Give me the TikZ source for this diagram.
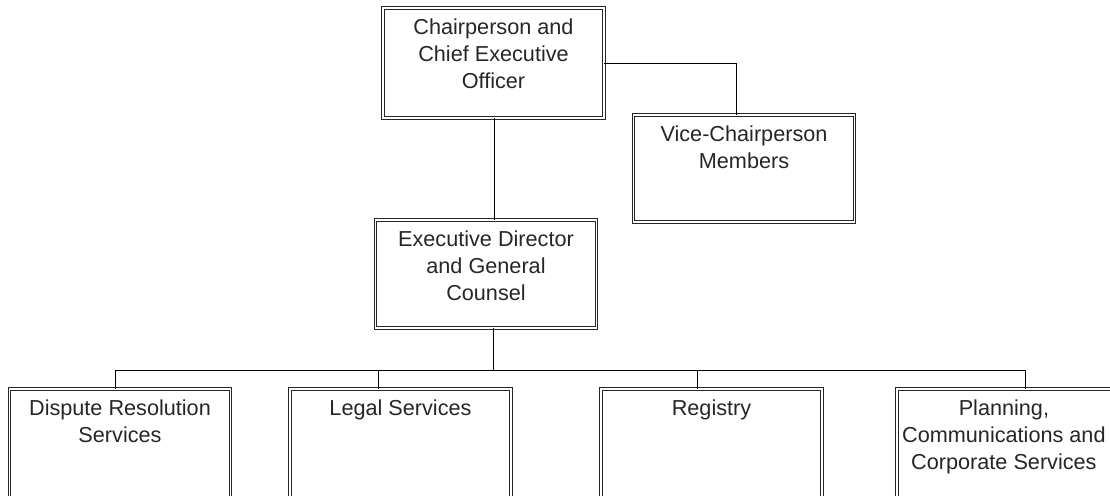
\documentclass[tikz,border=0pt]{standalone}
\usepackage{fontspec}
\setmainfont{Liberation Sans}
\begin{document}
\begin{tikzpicture}[x=0.025cm,y=-0.025cm,
  box/.style={draw=black!85, line width=0.45pt, double=white, double distance=1.3pt,
    minimum width=5.525cm, inner sep=0pt},
  lbl/.style={anchor=north, inner sep=0pt, align=center, text=black!85,
    font=\fontsize{15.4}{19.3}\selectfont},
  link/.style={draw=black, line width=0.7pt}]
\clip (0,0) rectangle (1110,495);
% boxes
\node[box, minimum height=2.75cm] (chair) at (493.5,63) {};
\node[box, minimum height=2.675cm] (vice) at (744,168.5) {};
\node[box, minimum height=2.7cm] (ed) at (486,274) {};
\node[box, minimum height=2.8cm] (drs) at (120,445) {};
\node[box, minimum height=2.8cm] (legal) at (400.5,445) {};
\node[box, minimum height=2.8cm] (reg) at (711.5,445) {};
\node[box, minimum height=2.8cm] (plan) at (1007.5,445) {};
% texts
\node[lbl] (chairtxt) at ([yshift=-0.275cm]chair.north) {Chairperson and\\Chief Executive\\Officer};
\node[lbl] (vicetxt) at ([yshift=-0.275cm]vice.north) {Vice-Chairperson\\Members};
\node[lbl] (edtxt) at ([yshift=-0.275cm]ed.north) {Executive Director\\and General\\Counsel};
\node[lbl] (drstxt) at ([yshift=-0.275cm]drs.north) {Dispute Resolution\\Services};
\node[lbl] (legaltxt) at ([yshift=-0.275cm]legal.north) {Legal Services};
\node[lbl] (regtxt) at ([yshift=-0.275cm]reg.north) {Registry};
\node[lbl] (plantxt) at ([xshift=-0.09cm,yshift=-0.275cm]plan.north) {Planning,\\Communications and\\Corporate Services};
% connectors
\coordinate (spine) at (494,0);
\coordinate (elbow) at (736,63);
\coordinate (edtap) at (493,370);
\coordinate (busl) at (115,370);
\coordinate (busr) at (1025,370);
\coordinate (dlegal) at (378,370);
\coordinate (dreg) at (697,370);
\draw[link] (chair.south -| spine) -- (ed.north -| spine);
\draw[link] (chair.east) -| (elbow |- vice.north);
\draw[link] (ed.south -| edtap) -- (edtap);
\draw[link] (busl) -- (busr);
\draw[link] (busl) -- (busl |- drs.north);
\draw[link] (dlegal) -- (dlegal |- legal.north);
\draw[link] (dreg) -- (dreg |- reg.north);
\draw[link] (busr) -- (busr |- plan.north);
\end{tikzpicture}
\end{document}
